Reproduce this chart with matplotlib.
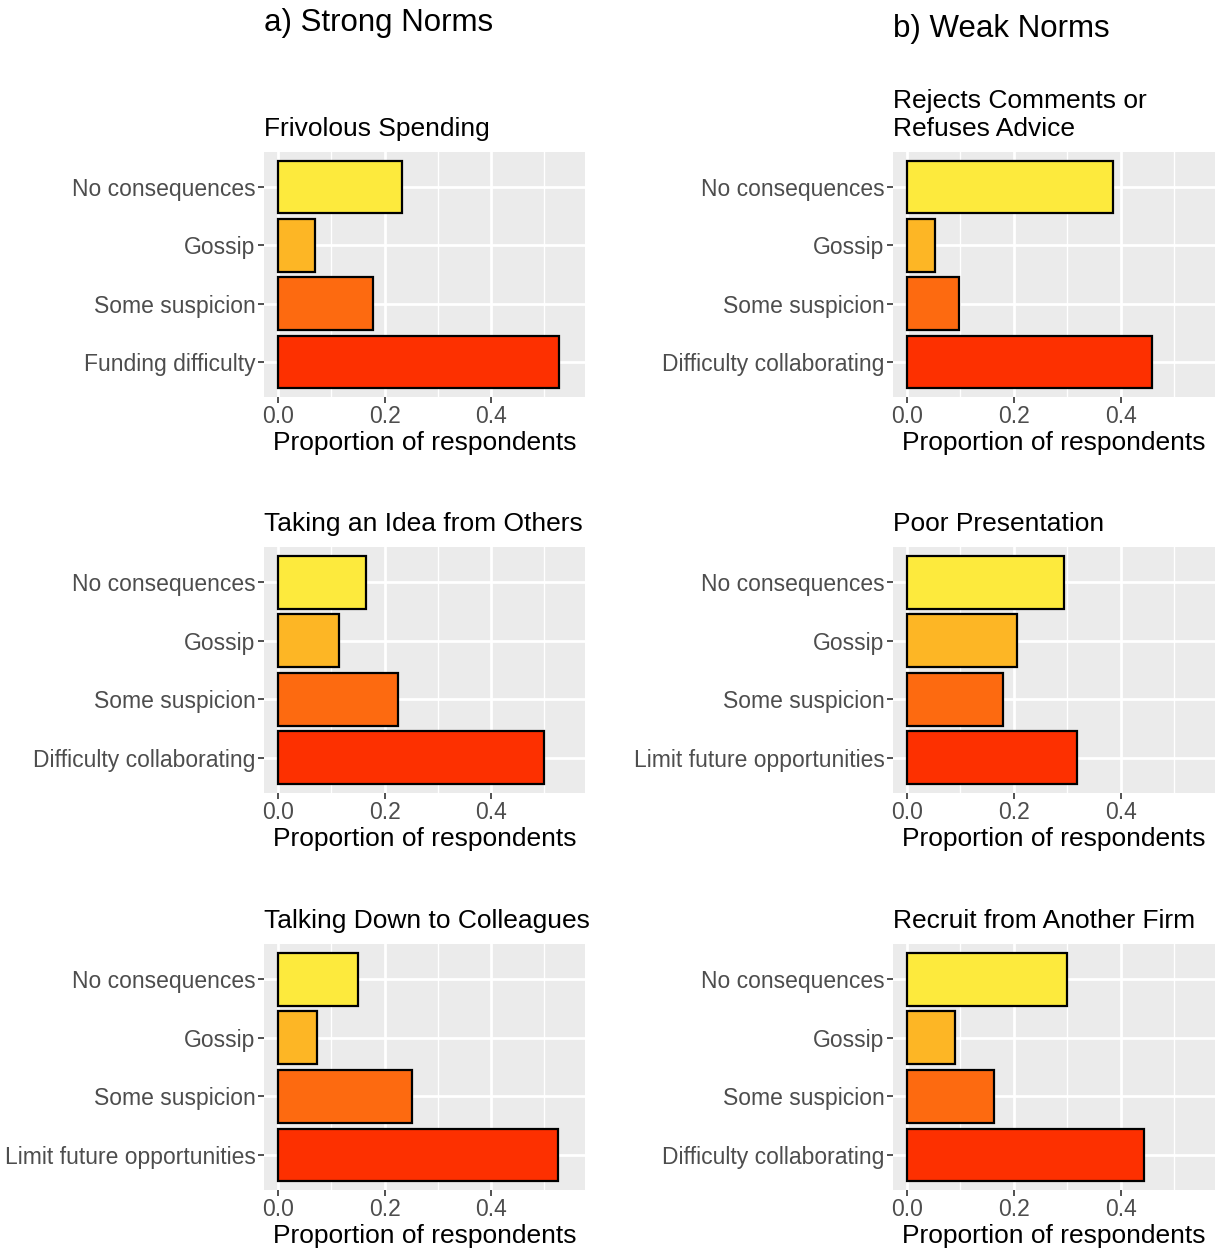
import numpy as np
import matplotlib.pyplot as plt
from matplotlib.ticker import MultipleLocator

plt.rcParams['font.family'] = ['Liberation Sans', 'DejaVu Sans']

# categories per panel (top to bottom)
cats_a1 = ['No consequences', 'Gossip', 'Some suspicion', 'Funding difficulty']
cats_a2 = ['No consequences', 'Gossip', 'Some suspicion', 'Difficulty collaborating']
cats_a3 = ['No consequences', 'Gossip', 'Some suspicion', 'Limit future opportunities']
cats_b1 = ['No consequences', 'Gossip', 'Some suspicion', 'Difficulty collaborating']
cats_b2 = ['No consequences', 'Gossip', 'Some suspicion', 'Limit future opportunities']
cats_b3 = ['No consequences', 'Gossip', 'Some suspicion', 'Difficulty collaborating']

# proportions
vals_a1 = [0.232, 0.069, 0.178, 0.527]
vals_a2 = [0.166, 0.114, 0.226, 0.499]
vals_a3 = [0.151, 0.073, 0.252, 0.525]
vals_b1 = [0.385, 0.052, 0.097, 0.458]
vals_b2 = [0.293, 0.206, 0.179, 0.318]
vals_b3 = [0.299, 0.090, 0.163, 0.443]

titles_a = ['Frivolous Spending', 'Taking an Idea from Others', 'Talking Down to Colleagues']
titles_b = ['Rejects Comments or\nRefuses Advice', 'Poor Presentation', 'Recruit from Another Firm']

colors = ['#FDEA3D', '#FDB625', '#FD6A10', '#FD3000']

W, H = 1221, 1253
fig = plt.figure(figsize=(W / 100, H / 100), dpi=100)

# panel boxes in pixels: left/right and top/bottom
cols = [(264, 585), (893, 1215)]
rows = [(152, 397), (547, 793), (944, 1190)]

panels = [
    [(cats_a1, vals_a1, titles_a[0]), (cats_b1, vals_b1, titles_b[0])],
    [(cats_a2, vals_a2, titles_a[1]), (cats_b2, vals_b2, titles_b[1])],
    [(cats_a3, vals_a3, titles_a[2]), (cats_b3, vals_b3, titles_b[2])],
]

for r, (top, bot) in enumerate(rows):
    for c, (lft, rgt) in enumerate(cols):
        cats, vals, title = panels[r][c]
        ax = fig.add_axes([lft / W, 1 - bot / H, (rgt - lft) / W, (bot - top) / H])
        ax.set_facecolor('#EBEBEB')
        y = np.arange(len(cats))[::-1] + 1
        ax.barh(y, vals, height=0.9, color=colors, edgecolor='black', linewidth=1.6, zorder=3)
        ax.set_xlim(-0.026, 0.576)
        ax.set_ylim(0.4, 4.6)
        ax.xaxis.set_major_locator(MultipleLocator(0.2))
        ax.xaxis.set_minor_locator(MultipleLocator(0.1))
        ax.set_xticks([0.0, 0.2, 0.4])
        ax.set_xticklabels(['0.0', '0.2', '0.4'])
        ax.set_yticks(y)
        ax.set_yticklabels(cats)
        ax.grid(which='major', color='white', linewidth=2.0, zorder=0)
        ax.grid(which='minor', axis='x', color='white', linewidth=1.0, zorder=0)
        ax.set_axisbelow(True)
        for s in ax.spines.values():
            s.set_visible(False)
        ax.tick_params(axis='both', which='major', length=4, width=1.2, color='#333333',
                       labelcolor='#4D4D4D', labelsize=16.5, pad=2)
        ax.tick_params(axis='x', which='minor', length=0)
        ax.set_xlabel('Proportion of respondents', fontsize=19, color='black', labelpad=2)
        ax.set_title(title, loc='left', fontsize=19, pad=11.5, color='black')

fig.text(264 / W, 1 - 23.5 / H, 'a) Strong Norms', fontsize=22.5, va='center', ha='left')
fig.text(893 / W, 1 - 29.5 / H, 'b) Weak Norms', fontsize=22.5, va='center', ha='left')

plt.savefig('out.png', dpi=100)
